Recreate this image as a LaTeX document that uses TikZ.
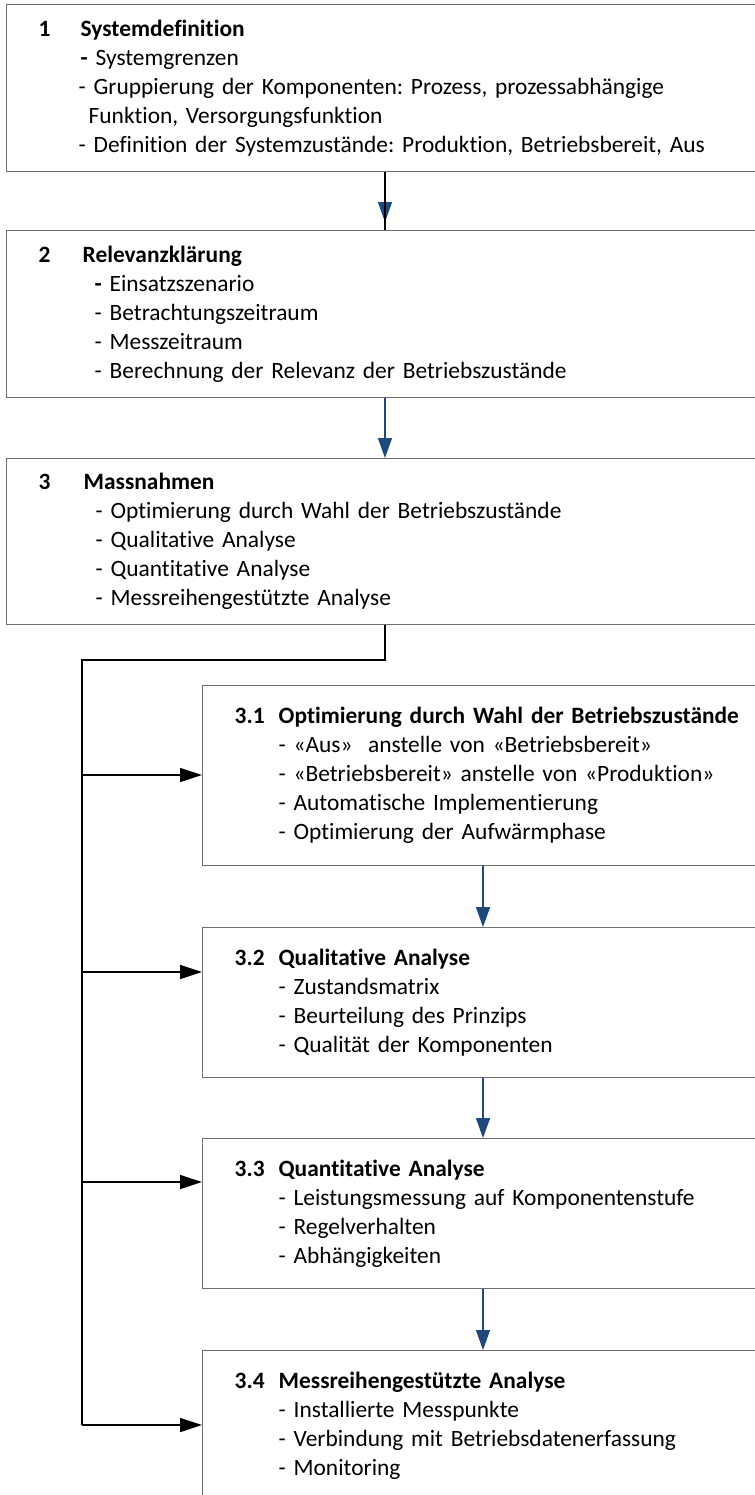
\documentclass[tikz,border=0pt]{standalone}
\usepackage{fontspec}
\setmainfont{Carlito}[Ligatures=NoCommon]
\usepackage{tikz}
\usetikzlibrary{positioning,arrows.meta,calc}
\definecolor{boxgray}{HTML}{6E6E6E}
\definecolor{flowblue}{HTML}{1F497D}
\frenchspacing

\begin{document}
\begin{tikzpicture}[
  x=0.5pt,y=-0.5pt,
  font=\fontsize{11.7pt}{14.5pt}\selectfont,
  stage/.style={rectangle,draw=boxgray,line width=0.7pt,anchor=north west,align=left,inner xsep=16pt,inner ysep=0pt},
  mainbox/.style={stage,text width=375pt,minimum height=#1},
  subbox/.style={stage,text width=277pt,minimum height=#1},
  flow/.style={-{Triangle[length=10pt,width=7pt]},flowblue,line width=0.7pt},
  feed/.style={-{Triangle[length=11pt,width=7pt]},black,line width=0.8pt},
  wire/.style={black,line width=0.8pt},
]
\clip (0,0) rectangle (755,1495);

% Main steps
\node[mainbox=83.5pt] (b1) at (6,4) {%
  \makebox[21pt][l]{\bfseries 1}\textbf{Systemdefinition}\\
  \hspace*{21pt}\textbf{-} Systemgrenzen\\
  \hspace*{20pt}- Gruppierung der Komponenten: Prozess, prozessabhängige\\
  \hspace*{25pt}Funktion, Versorgungsfunktion\\
  \hspace*{20pt}- Definition der Systemzustände: Produktion, Betriebsbereit, Aus};
\node[mainbox=83.5pt] (b2) at (6,230) {%
  \makebox[22pt][l]{\bfseries 2}\textbf{Relevanzklärung}\\
  \hspace*{28pt}\textbf{-} Einsatzszenario\\
  \hspace*{28pt}- Betrachtungszeitraum\\
  \hspace*{28pt}- Messzeitraum\\
  \hspace*{28pt}- Berechnung der Relevanz der Betriebszustände};
\node[mainbox=83pt] (b3) at (6,458) {%
  \makebox[22.5pt][l]{\bfseries 3}\textbf{Massnahmen}\\
  \hspace*{28.5pt}- Optimierung durch Wahl der Betriebszustände\\
  \hspace*{28.5pt}- Qualitative Analyse\\
  \hspace*{28.5pt}- Quantitative Analyse\\
  \hspace*{28.5pt}- Messreihengestützte Analyse};

% Sub steps of 3
\node[subbox=90pt] (b31) at (202,685) {%
  \makebox[22pt][l]{\bfseries 3.1}\textbf{Optimierung durch Wahl der Betriebszustände}\\
  \hspace*{22pt}- «Aus»~ anstelle von «Betriebsbereit»\\
  \hspace*{22pt}- «Betriebsbereit» anstelle von «Produktion»\\
  \hspace*{22pt}- Automatische Implementierung\\
  \hspace*{22pt}- Optimierung der Aufwärmphase};
\node[subbox=75pt] (b32) at (202,927) {%
  \makebox[22pt][l]{\bfseries 3.2}\textbf{Qualitative Analyse}\\
  \hspace*{22pt}- Zustandsmatrix\\
  \hspace*{22pt}- Beurteilung des Prinzips\\
  \hspace*{22pt}- Qualität der Komponenten};
\node[subbox=75pt] (b33) at (202,1138) {%
  \makebox[22pt][l]{\bfseries 3.3}\textbf{Quantitative Analyse}\\
  \hspace*{22pt}- Leistungsmessung auf Komponentenstufe\\
  \hspace*{22pt}- Regelverhalten\\
  \hspace*{22pt}- Abhängigkeiten};
\node[subbox=75pt] (b34) at (202,1350) {%
  \makebox[22pt][l]{\bfseries 3.4}\textbf{Messreihengestützte Analyse}\\
  \hspace*{22pt}- Installierte Messpunkte\\
  \hspace*{22pt}- Verbindung mit Betriebsdatenerfassung\\
  \hspace*{22pt}- Monitoring};

% Helper points: spines and left bus
\coordinate (sp) at (385,0);
\coordinate (sub) at (483,0);
\coordinate (bus) at (82,660);
\coordinate (t31) at (82,775);
\coordinate (t32) at (82,972);
\coordinate (t33) at (82,1182);
\coordinate (t34) at (82,1425);

% Main flow
\draw[flow,shorten >=4pt] (b1.south -| sp) -- (b2.north -| sp);
\draw[wire] (b1.south -| sp) -- (b2.north -| sp);
\draw[flow] (b2.south -| sp) -- (b3.north -| sp);

% Bus into sub steps
\draw[wire] (b3.south -| sp) |- (bus) -- (t34);
\foreach \b in {31,32,33,34}
  \draw[feed] (t\b) -- (b\b.west |- t\b);

% Sub flow
\draw[flow] (b31.south -| sub) -- (b32.north -| sub);
\draw[flow] (b32.south -| sub) -- (b33.north -| sub);
\draw[flow] (b33.south -| sub) -- (b34.north -| sub);
\end{tikzpicture}
\end{document}
